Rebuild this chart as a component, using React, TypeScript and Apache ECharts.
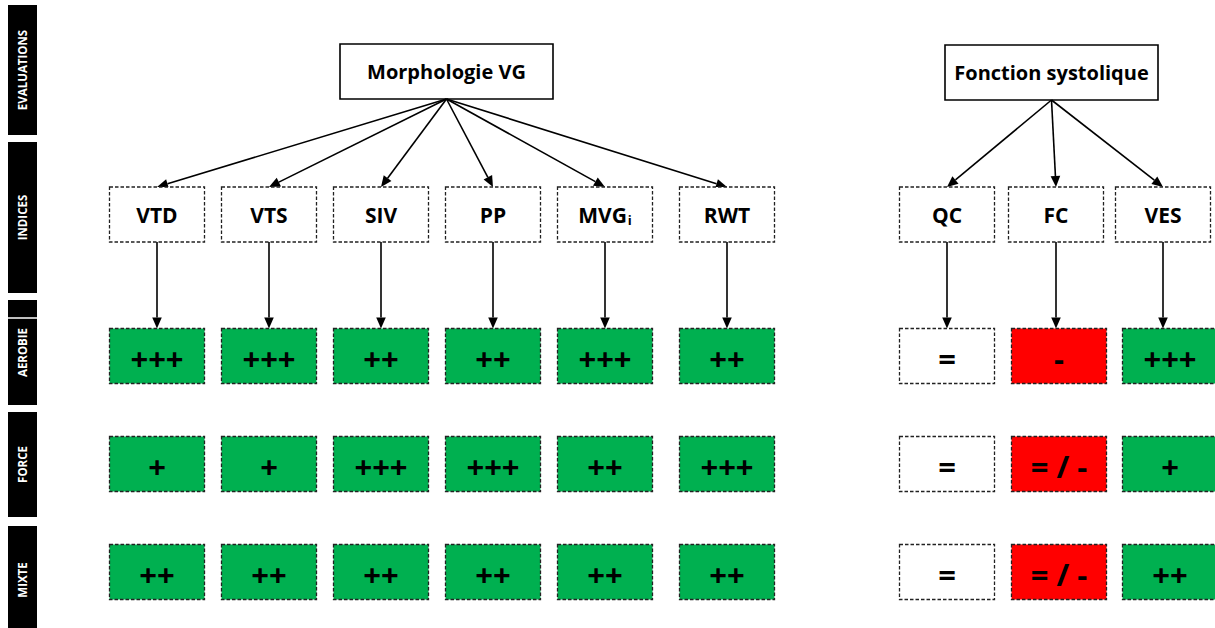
import React, { useEffect, useRef } from "react";
import * as echarts from "echarts";

// ---------- data ----------
const levels = ["EVALUATIONS", "INDICES", "AEROBIE", "FORCE", "MIXTE"];
const groupNames = ["Morphologie VG", "Fonction systolique"];
const morphologieIndices = ["VTD", "VTS", "SIV", "PP", "MVG_i", "RWT"];
const systoliqueIndices = ["QC", "FC", "VES"];
const trainings = ["AEROBIE", "FORCE", "MIXTE"];
const aerobieValues = ["+++", "+++", "++", "++", "+++", "++", "=", "-", "+++"];
const forceValues = ["+", "+", "+++", "+++", "++", "+++", "=", "= / -", "+"];
const mixteValues = ["++", "++", "++", "++", "++", "++", "=", "= / -", "++"];

// ---------- layout ----------
const W = 1215;
const H = 628;
const FONT = '"Open Sans", Lato, "DejaVu Sans", sans-serif';
const levelBands = [
  [5, 135],
  [142, 293],
  [300, 405],
  [412, 517],
  [526, 634],
];
const stripX = 22.5;
const stripW = 29;
const groupCenters = [
  [446.5, 71.5],
  [1051.5, 72.5],
];
const groupBoxW = 213;
const boxH = 55;
const cellW = 95;
const indexX = [157, 269, 381, 493, 605, 727, 947, 1056, 1163];
const valueX = [157, 269, 381, 493, 605, 727, 947, 1059, 1170];
const indexY = 214.5;
const rowY = [356, 464, 572];

const GREEN = "#00B050";
const RED = "#FF0000";

function effectColor(v: string) {
  if (v.includes("-")) return RED;
  if (v.includes("+")) return GREEN;
  return "#FFFFFF";
}

type Item = {
  kind: string;
  x: number;
  y: number;
  w?: number;
  h?: number;
  x2?: number;
  y2?: number;
  text?: string;
  fill?: string;
};

const items: Item[] = [];
levels.forEach((name, i) => {
  const [a, b] = levelBands[i];
  items.push({ kind: "strip", x: stripX, y: (a + b) / 2, w: stripW, h: b - a, text: name });
});
groupNames.forEach((g, gi) => {
  items.push({ kind: "group", x: groupCenters[gi][0], y: groupCenters[gi][1], w: groupBoxW, h: boxH, text: g });
});
let col = 0;
[morphologieIndices, systoliqueIndices].forEach((list, gi) => {
  list.forEach((name) => {
    items.push({
      kind: "arrow",
      x: groupCenters[gi][0],
      y: groupCenters[gi][1] + boxH / 2,
      x2: indexX[col],
      y2: indexY - boxH / 2,
    });
    items.push({ kind: "index", x: indexX[col], y: indexY, w: cellW, h: boxH, text: name });
    items.push({
      kind: "arrow",
      x: indexX[col],
      y: indexY + boxH / 2,
      x2: indexX[col],
      y2: rowY[0] - boxH / 2,
    });
    col++;
  });
});
const valueRows = [aerobieValues, forceValues, mixteValues];
valueRows.forEach((vals, r) => {
  vals.forEach((v, c) => {
    items.push({ kind: "value", x: valueX[c], y: rowY[r], w: cellW, h: boxH, text: v, fill: effectColor(v) });
  });
});
// trainings rows correspond to strips 2..4
void trainings;

function labelStyle(text: string, cx: number, cy: number, size: number, color = "#000") {
  if (text.includes("_")) {
    const [main, sub] = text.split("_");
    return {
      text: `{m|${main}}{s|${sub}}`,
      x: cx,
      y: cy,
      align: "center",
      verticalAlign: "middle",
      rich: {
        m: { fontFamily: FONT, fontWeight: "bold", fontSize: size, fill: color, color },
        s: {
          fontFamily: FONT,
          fontWeight: "bold",
          fontSize: Math.round(size * 0.6),
          fill: color,
          color,
          verticalAlign: "bottom",
          padding: [size * 0.55, 0, 0, 1],
        },
      },
    };
  }
  return {
    text,
    x: cx,
    y: cy,
    align: "center",
    verticalAlign: "middle",
    fontFamily: FONT,
    fontWeight: "bold",
    fontSize: size,
    fill: color,
  };
}

function renderItem(params: any, api: any) {
  const it = items[params.dataIndex];
  const p = api.coord([it.x, it.y]);
  if (it.kind === "arrow") {
    const q = api.coord([it.x2, it.y2]);
    const dx = q[0] - p[0];
    const dy = q[1] - p[1];
    const len = Math.hypot(dx, dy);
    const ux = dx / len;
    const uy = dy / len;
    const hl = 11;
    const hw = 4.8;
    const bx = q[0] - ux * hl;
    const by = q[1] - uy * hl;
    return {
      type: "group",
      children: [
        { type: "line", shape: { x1: p[0], y1: p[1], x2: bx, y2: by }, style: { stroke: "#000", lineWidth: 1.6 } },
        {
          type: "polygon",
          shape: {
            points: [
              [q[0], q[1]],
              [bx - uy * hw, by + ux * hw],
              [bx + uy * hw, by - ux * hw],
            ],
          },
          style: { fill: "#000" },
        },
      ],
    };
  }
  const s = api.size([it.w, it.h]);
  const w = Math.abs(s[0]);
  const h = Math.abs(s[1]);
  const rect = { x: p[0] - w / 2, y: p[1] - h / 2, width: w, height: h };
  if (it.kind === "strip") {
    const children: any[] = [{ type: "rect", shape: rect, style: { fill: "#000" } }];
    if (it.text === "AEROBIE") {
      children.push({
        type: "line",
        shape: { x1: rect.x, y1: rect.y + 18, x2: rect.x + w, y2: rect.y + 18 },
        style: { stroke: "#fff", lineWidth: 1.5 },
      });
    }
    children.push({
      type: "text",
      x: p[0],
      y: p[1],
      rotation: Math.PI / 2,
      style: labelStyle(it.text!, 0, 0, 11.5, "#fff"),
    });
    return { type: "group", children };
  }
  if (it.kind === "group") {
    return {
      type: "group",
      children: [
        { type: "rect", shape: rect, style: { fill: "#fff", stroke: "#000", lineWidth: 1.6 } },
        { type: "text", style: labelStyle(it.text!, p[0], p[1], 20) },
      ],
    };
  }
  const isValue = it.kind === "value";
  return {
    type: "group",
    children: [
      {
        type: "rect",
        shape: rect,
        style: {
          fill: isValue ? it.fill : "#fff",
          stroke: "#222",
          lineWidth: 1.3,
          lineDash: [3.5, 2],
        },
      },
      { type: "text", style: labelStyle(it.text!, p[0], p[1] + (isValue ? 2 : 0), isValue ? 31 : 21) },
    ],
  };
}

export default function App() {
  const ref = useRef<HTMLDivElement>(null);
  useEffect(() => {
    const chart = echarts.init(ref.current!, null, { renderer: "svg" });
    chart.setOption({
      animation: false,
      backgroundColor: "#fff",
      grid: { left: 0, right: 0, top: 0, bottom: 0 },
      xAxis: { type: "value", min: 0, max: W, show: false },
      yAxis: { type: "value", min: 0, max: H, inverse: true, show: false },
      series: [
        {
          type: "custom",
          coordinateSystem: "cartesian2d",
          clip: false,
          silent: true,
          data: items.map((it) => [it.x, it.y]),
          renderItem,
        },
      ],
    });
    return () => chart.dispose();
  }, []);
  return (
    <div
      ref={ref}
      style={{ position: "fixed", left: 0, top: 0, width: W, height: H, background: "#fff" }}
    />
  );
}
